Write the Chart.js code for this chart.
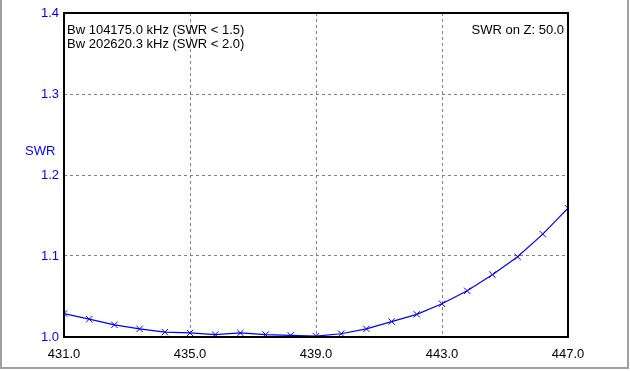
<!DOCTYPE html>
<html>
<head>
<meta charset="utf-8">
<script src="https://cdn.jsdelivr.net/npm/chart.js@4/dist/chart.umd.min.js"></script>
<style>
  html, body { margin: 0; padding: 0; background: #fff; }
  #wrap { width: 630px; height: 371px; position: relative; }
</style>
</head>
<body>
<div id="wrap"><canvas id="swrChart" width="630" height="371"></canvas></div>
<script>
const freqs = [431.0, 431.8, 432.6, 433.4, 434.2, 435.0, 435.8, 436.6, 437.4, 438.2,
               439.0, 439.8, 440.6, 441.4, 442.2, 443.0, 443.8, 444.6, 445.4, 446.2, 447.0];
const swrValues = [1.029, 1.022, 1.015, 1.010, 1.006, 1.005, 1.003, 1.005, 1.003, 1.002,
                   1.001, 1.004, 1.010, 1.019, 1.028, 1.041, 1.057, 1.077, 1.099, 1.127, 1.159];

// Axis ranges / ticks
const xRange = [431, 447];
const xStep = 4;
const yRange = [1.0, 1.4];
const yStep = 0.1;

// Text annotations
const infoLines = ['Bw 104175.0 kHz (SWR < 1.5)', 'Bw 202620.3 kHz (SWR < 2.0)'];
const impedanceText = 'SWR on Z: 50.0';
const yTitle = 'SWR';

const FONT = '"Liberation Sans", Arial, sans-serif';

// Frame, labels and window border drawn on top of the chart
const decorPlugin = {
    id: 'decor',
    afterDraw(chart) {
        const { ctx, chartArea: a } = chart;
        ctx.save();

        // plot frame
        ctx.strokeStyle = '#000';
        ctx.lineWidth = 2;
        ctx.strokeRect(a.left, a.top, a.right - a.left, a.bottom - a.top);

        // text inside the plot
        ctx.font = '13px ' + FONT;
        ctx.fillStyle = '#000';
        ctx.textBaseline = 'middle';
        ctx.textAlign = 'left';
        infoLines.forEach((t, i) => ctx.fillText(t, a.left + 3, 30 + i * 14));
        ctx.textAlign = 'right';
        ctx.fillText(impedanceText, a.right - 4, 30);

        // y-axis title
        ctx.fillStyle = '#0000ff';
        ctx.textAlign = 'left';
        ctx.fillText(yTitle, 25, 151);

        // window border (left, right, bottom)
        ctx.strokeStyle = '#a0a0a0';
        ctx.lineWidth = 2;
        ctx.beginPath();
        ctx.moveTo(1, 0);
        ctx.lineTo(1, 368);
        ctx.lineTo(628, 368);
        ctx.lineTo(628, 0);
        ctx.stroke();

        ctx.restore();
    }
};

const edgeFree = (min, max) => (c) =>
    (Math.abs(c.tick.value - min) < 1e-6 || Math.abs(c.tick.value - max) < 1e-6) ? 'rgba(0,0,0,0)' : '#808080';

new Chart(document.getElementById('swrChart'), {
    type: 'line',
    data: {
        datasets: [{
            data: freqs.map((f, i) => ({ x: f, y: swrValues[i] })),
            borderColor: '#0000ff',
            backgroundColor: '#0000ff',
            borderWidth: 1.2,
            pointStyle: 'crossRot',
            pointRadius: 4.5,
            pointBorderWidth: 1,
            pointBorderColor: '#0000ff',
            tension: 0,
            fill: false
        }]
    },
    options: {
        responsive: false,
        animation: false,
        devicePixelRatio: 1,
        layout: { padding: { left: 0, right: 62, top: 13, bottom: 0 } },
        plugins: { legend: { display: false }, tooltip: { enabled: false } },
        scales: {
            x: {
                type: 'linear',
                min: xRange[0],
                max: xRange[1],
                afterFit: (s) => { s.height = 371 - 337; },
                ticks: {
                    stepSize: xStep,
                    color: '#000',
                    font: { family: FONT, size: 13 },
                    padding: 10,
                    maxRotation: 0,
                    callback: (v) => v.toFixed(1)
                },
                grid: { color: edgeFree(xRange[0], xRange[1]), lineWidth: 1, drawTicks: false },
                border: { display: false, dash: [3, 3] }
            },
            y: {
                min: yRange[0],
                max: yRange[1],
                afterFit: (s) => { s.width = 64; },
                ticks: {
                    stepSize: yStep,
                    color: '#0000ff',
                    font: { family: FONT, size: 13 },
                    padding: 5,
                    callback: (v) => v.toFixed(1)
                },
                grid: { color: edgeFree(yRange[0], yRange[1]), lineWidth: 1, drawTicks: false },
                border: { display: false, dash: [3, 3] }
            }
        }
    },
    plugins: [decorPlugin]
});
</script>
</body>
</html>
